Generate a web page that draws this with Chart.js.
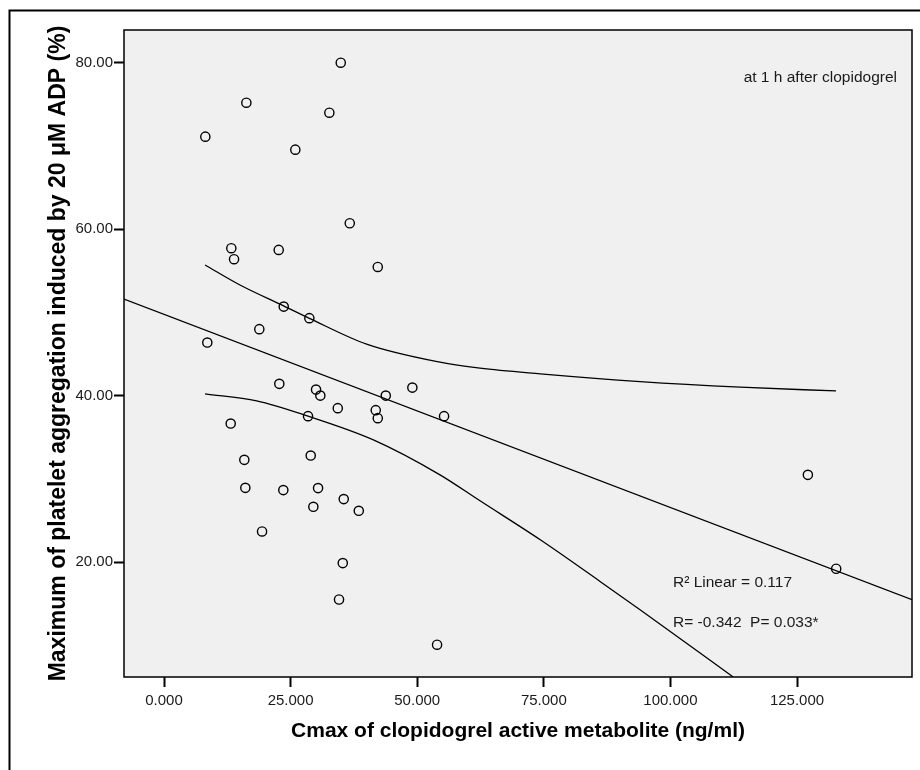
<!DOCTYPE html>
<html>
<head>
<meta charset="utf-8">
<script src="https://cdn.jsdelivr.net/npm/chart.js@4/dist/chart.umd.min.js"></script>
<style>
  html, body { margin: 0; padding: 0; background: #ffffff; overflow: hidden; }
  #wrap { width: 920px; height: 770px; }
  canvas { display: block; }
</style>
</head>
<body>
<div id="wrap"><canvas id="scatterChart" width="920" height="770"></canvas></div>
<script>
// Cmax (ng/ml) and max platelet aggregation (%)
const cmaxValues = [8.16, 16.26, 34.9, 32.65, 25.93, 36.68, 13.29, 13.83, 22.65, 42.21,
                    23.64, 28.7, 18.82, 8.55, 22.77, 30.02, 30.87, 43.79, 49.04, 34.31,
                    41.81, 42.21, 55.3, 28.44, 13.17, 15.86, 28.97, 16.06, 23.56, 30.42,
                    35.49, 29.49, 38.46, 19.36, 35.3, 34.56, 53.92, 127.14, 132.73];
const aggValues = [71.12, 75.2, 80.0, 74.0, 69.56, 60.72, 57.72, 56.4, 57.52, 55.47,
                   50.71, 49.32, 48.0, 46.39, 41.43, 40.74, 40.02, 40.02, 40.98, 38.51,
                   38.27, 37.31, 37.55, 37.55, 36.66, 32.3, 32.82, 28.94, 28.67, 28.91,
                   27.59, 26.66, 26.18, 23.7, 19.9, 15.53, 10.1, 30.5, 19.22];

// fit line (ends at the plot edges)
const fitX = [-7.9, 147.7];
const fitY = [51.6, 15.5];

// 95% mean confidence band
const upperX = [8.1, 15.0, 23.6, 28.7, 40.0, 54.5, 62.4, 74.3, 94.0, 113.8, 132.7];
const upperY = [55.71, 53.3, 50.8, 49.3, 46.2, 44.03, 43.31, 42.63, 41.7, 41.03, 40.58];
const lowerX = [8.1, 18.3, 28.44, 41.35, 54.5, 62.4, 74.3, 86.1, 94.0, 112.4];
const lowerY = [40.23, 39.39, 37.55, 34.7, 30.5, 27.38, 22.7, 17.7, 14.3, 6.22];

const xTicks = [0, 25, 50, 75, 100, 125];
const yTicks = [20, 40, 60, 80];

const toPoints = (xs, ys) => xs.map((x, i) => ({ x: x, y: ys[i] }));

// grey plot area, frame and the SPSS-style notes
const framePlugin = {
    id: 'frame',
    beforeDraw(chart) {
        const { ctx, chartArea: a } = chart;
        ctx.save();
        ctx.fillStyle = '#f0f0f0';
        ctx.fillRect(a.left, a.top, a.right - a.left, a.bottom - a.top);
        // outer box of the figure (right and bottom edges are cut off)
        ctx.strokeStyle = '#000';
        ctx.lineWidth = 2;
        ctx.beginPath();
        ctx.moveTo(9.5, 780);
        ctx.lineTo(9.5, 10.5);
        ctx.lineTo(930, 10.5);
        ctx.stroke();
        ctx.restore();
    },
    afterDraw(chart) {
        const { ctx, chartArea: a } = chart;
        ctx.save();
        ctx.strokeStyle = '#000';
        ctx.lineWidth = 1.5;
        ctx.strokeRect(a.left, a.top, a.right - a.left, a.bottom - a.top);

        ctx.fillStyle = '#1a1a1a';
        ctx.font = '15.5px "Liberation Sans", Arial, sans-serif';
        ctx.textBaseline = 'alphabetic';
        ctx.textAlign = 'right';
        ctx.fillText('at 1 h after clopidogrel', a.right - 15, a.top + 52);
        ctx.textAlign = 'left';
        ctx.fillText('R² Linear = 0.117', a.left + 549, a.top + 557);
        ctx.fillText('R= -0.342  P= 0.033*', a.left + 549, a.top + 597);

        // keep the strip right of the plot blank
        ctx.fillStyle = '#ffffff';
        ctx.fillRect(a.right + 2, 12, chart.width - a.right - 2, chart.height - 12);
        ctx.restore();
    }
};

const lineStyle = {
    showLine: true,
    pointRadius: 0,
    borderColor: '#000',
    borderWidth: 1.3,
    fill: false
};

new Chart(document.getElementById('scatterChart'), {
    type: 'scatter',
    data: {
        datasets: [
            {
                label: 'Observed',
                data: toPoints(cmaxValues, aggValues),
                pointRadius: 4.6,
                pointBorderWidth: 1.4,
                borderColor: '#000',
                backgroundColor: 'rgba(0,0,0,0)'
            },
            Object.assign({ label: 'Linear fit', data: toPoints(fitX, fitY) }, lineStyle),
            Object.assign({ label: 'Upper 95%', data: toPoints(upperX, upperY), cubicInterpolationMode: 'monotone' }, lineStyle),
            Object.assign({ label: 'Lower 95%', data: toPoints(lowerX, lowerY), cubicInterpolationMode: 'monotone' }, lineStyle)
        ]
    },
    options: {
        responsive: false,
        animation: false,
        layout: { padding: { top: 30, right: 8, bottom: 0, left: 0 } },
        plugins: {
            legend: { display: false },
            tooltip: { enabled: false }
        },
        scales: {
            x: {
                type: 'linear',
                min: -7.9,
                max: 147.7,
                afterBuildTicks: (scale) => { scale.ticks = xTicks.map(v => ({ value: v })); },
                afterFit: (scale) => { scale.height = 93; },
                grid: {
                    drawOnChartArea: false,
                    drawTicks: true,
                    tickLength: 10,
                    tickWidth: 2,
                    tickColor: '#000'
                },
                border: { display: false },
                ticks: {
                    color: '#1a1a1a',
                    padding: 5,
                    maxRotation: 0,
                    font: { family: '"Liberation Sans", Arial, sans-serif', size: 15 },
                    callback: (v) => Number(v).toFixed(3)
                },
                title: {
                    display: true,
                    text: 'Cmax of clopidogrel active metabolite (ng/ml)',
                    color: '#000',
                    font: { family: '"Liberation Sans", Arial, sans-serif', size: 21, weight: 'bold' },
                    padding: { top: 0, bottom: 26 }
                }
            },
            y: {
                type: 'linear',
                min: 6.22,
                max: 83.93,
                afterBuildTicks: (scale) => { scale.ticks = yTicks.map(v => ({ value: v })); },
                afterFit: (scale) => { scale.width = 124; },
                grid: {
                    drawOnChartArea: false,
                    drawTicks: true,
                    tickLength: 10,
                    tickWidth: 2,
                    tickColor: '#000'
                },
                border: { display: false },
                ticks: {
                    color: '#1a1a1a',
                    padding: 1,
                    font: { family: '"Liberation Sans", Arial, sans-serif', size: 15 },
                    callback: (v) => Number(v).toFixed(2)
                },
                title: {
                    display: true,
                    text: 'Maximum of platelet aggregation induced by 20 μM ADP (%)',
                    color: '#000',
                    font: { family: '"Liberation Sans", Arial, sans-serif', size: 23, weight: 'bold' },
                    padding: { top: 45, bottom: 0 }
                }
            }
        }
    },
    plugins: [framePlugin]
});
</script>
</body>
</html>
